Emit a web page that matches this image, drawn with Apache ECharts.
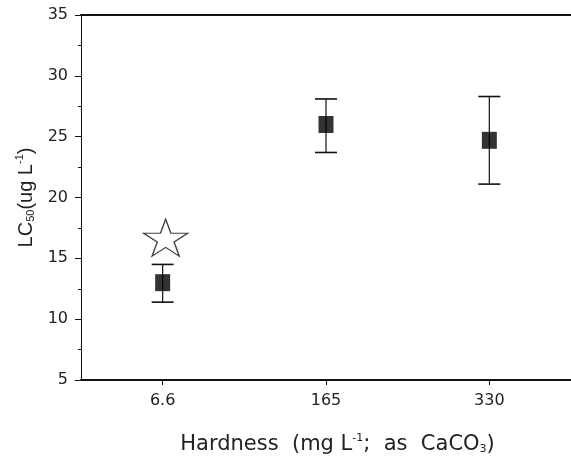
<!DOCTYPE html>
<html>
<head>
<meta charset="utf-8">
<script src="https://cdn.jsdelivr.net/npm/echarts@6/dist/echarts.min.js"></script>
<style>html,body{margin:0;padding:0;background:#fff;}#c{width:571px;height:467px;}</style>
</head>
<body>
<div id="c"></div>
<script>
var categories = ['6.6', '165', '330'];
var meanValues = [13.0, 26.0, 24.7];
var errLow = [11.4, 23.7, 21.1];
var errHigh = [14.5, 28.1, 28.3];
var starValues = [16.7, null, null];
var yTicks = [5, 35, 5]; // min, max, interval

var FONT = '"Liberation Sans", Arial, sans-serif';
var WFONT = '"DejaVu Sans", sans-serif';
var starPath = 'path://M50,0 L61.2,34.5 L97.6,34.5 L68.2,55.9 L79.4,90.5 L50,69.1 L20.6,90.5 L31.8,55.9 L2.4,34.5 L38.8,34.5 Z';

var errData = categories.map(function (c, i) { return [i, errLow[i], errHigh[i]]; });

var chart = echarts.init(document.getElementById('c'), null, {renderer: 'canvas'});
chart.setOption({
  animation: false,
  backgroundColor: '#fff',
  grid: {left: 81, top: 15, right: -4, bottom: 87, containLabel: false},
  xAxis: [{
    type: 'category',
    data: categories,
    boundaryGap: true,
    axisLine: {lineStyle: {color: '#111', width: 2}},
    axisTick: {show: true, alignWithLabel: true, inside: false, length: 5, lineStyle: {color: '#111', width: 1}},
    axisLabel: {color: '#222', fontSize: 16, fontFamily: WFONT, margin: 13},
    splitLine: {show: false},
    name: 'Hardness  (mg L{sup|-1};  as  CaCO{sub|3})',
    nameLocation: 'middle',
    nameGap: 53,
    nameTextStyle: {
      color: '#222', fontSize: 21, fontFamily: WFONT,
      padding: [0, 0, 0, 23],
      rich: {
        sup: {fontSize: 11, fontFamily: WFONT, color: '#222', padding: [0, 0, 12, 0]},
        sub: {fontSize: 11, fontFamily: WFONT, color: '#222', padding: [10, 0, 0, 0]}
      }
    }
  }, {
    type: 'category',
    data: categories,
    position: 'top',
    axisLine: {lineStyle: {color: '#111', width: 2}},
    axisTick: {show: false},
    axisLabel: {show: false}
  }],
  yAxis: {
    type: 'value',
    min: yTicks[0], max: yTicks[1], interval: yTicks[2],
    axisLine: {show: true, lineStyle: {color: '#111', width: 1}},
    axisTick: {show: true, inside: false, length: 6, lineStyle: {color: '#111', width: 1}},
    minorTick: {show: true, splitNumber: 2, length: 3, lineStyle: {color: '#111', width: 1}},
    axisLabel: {color: '#222', fontSize: 16, fontFamily: WFONT, margin: 13},
    splitLine: {show: false},
    name: 'LC{sub|50}(ug L{sup|-1})',
    nameLocation: 'middle',
    nameGap: 41,
    nameRotate: 90,
    nameTextStyle: {
      color: '#222', fontSize: 20, fontFamily: FONT,
      rich: {
        sup: {fontSize: 11, fontFamily: FONT, color: '#222', padding: [0, 0, 12, 0]},
        sub: {fontSize: 11, fontFamily: FONT, color: '#222', padding: [10, 0, 0, 0]}
      }
    }
  },
  series: [{
    type: 'custom',
    data: errData,
    renderItem: function (params, api) {
      var x = api.value(0);
      var lo = api.coord([x, api.value(1)]);
      var hi = api.coord([x, api.value(2)]);
      var hw = 11;
      var st = {stroke: '#111', lineWidth: 1.2};
      return {type: 'group', children: [
        {type: 'line', shape: {x1: lo[0], y1: lo[1], x2: hi[0], y2: hi[1]}, style: st},
        {type: 'line', shape: {x1: lo[0] - hw, y1: lo[1], x2: lo[0] + hw, y2: lo[1]}, style: {stroke: '#111', lineWidth: 1.6}},
        {type: 'line', shape: {x1: hi[0] - hw, y1: hi[1], x2: hi[0] + hw, y2: hi[1]}, style: {stroke: '#111', lineWidth: 1.6}}
      ]};
    },
    z: 2
  }, {
    type: 'scatter',
    data: meanValues,
    symbol: 'rect',
    symbolSize: [15, 17],
    itemStyle: {color: '#000'},
    z: 3
  }, {
    type: 'scatter',
    data: starValues,
    symbol: starPath,
    symbolSize: [44, 37],
    symbolOffset: [3, 0],
    itemStyle: {color: '#fff', borderColor: '#111', borderWidth: 1.3},
    z: 3
  }]
});
</script>
</body>
</html>
